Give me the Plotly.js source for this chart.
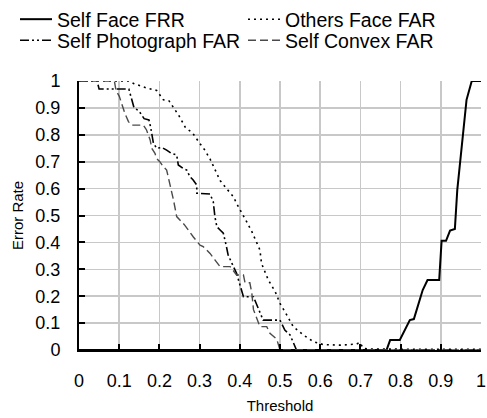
<!DOCTYPE html>
<html>
<head>
<meta charset="utf-8">
<script src="https://cdn.plot.ly/plotly-3.0.1.min.js"></script>
<style>html,body{margin:0;padding:0;background:#fff;}#chart{width:487px;height:418px;}</style>
</head>
<body>
<div id="chart"></div>
<script>
// Self Face FRR (solid)
const frrX = [0, 0.765, 0.774, 0.798, 0.823, 0.833, 0.855, 0.867, 0.896, 0.902, 0.913, 0.923, 0.935, 0.941, 0.964, 0.977, 1];
const frrY = [0, 0, 0.037, 0.037, 0.111, 0.115, 0.223, 0.26, 0.26, 0.406, 0.406, 0.444, 0.45, 0.595, 0.93, 1, 1];

// Others Face FAR (dotted)
const othX = [0, 0.123, 0.137, 0.166, 0.193, 0.2, 0.21, 0.224, 0.236, 0.249, 0.265, 0.282, 0.299, 0.313, 0.326, 0.338, 0.351, 0.367, 0.384, 0.392, 0.405, 0.417, 0.43, 0.442, 0.45, 0.454, 0.471, 0.488, 0.5, 0.517, 0.533, 0.558, 0.583, 0.608, 0.624, 0.65, 0.69, 0.699, 0.707, 0.72, 0.8, 1];
const othY = [1, 1, 0.99, 0.975, 0.965, 0.95, 0.93, 0.926, 0.9, 0.87, 0.826, 0.808, 0.771, 0.743, 0.71, 0.669, 0.63, 0.6, 0.57, 0.545, 0.512, 0.477, 0.44, 0.403, 0.372, 0.322, 0.26, 0.217, 0.173, 0.13, 0.087, 0.056, 0.031, 0.02, 0.02, 0.018, 0.022, 0.028, 0.006, 0.004, 0.003, 0.003];

// Self Photograph FAR (dash-dot)
const phoX = [0, 0.045, 0.05, 0.124, 0.137, 0.149, 0.162, 0.174, 0.178, 0.185, 0.193, 0.206, 0.218, 0.23, 0.243, 0.247, 0.259, 0.268, 0.276, 0.284, 0.293, 0.293, 0.326, 0.334, 0.338, 0.343, 0.351, 0.359, 0.366, 0.371, 0.392, 0.409, 0.434, 0.458, 0.5, 0.512, 0.525, 0.541, 1];
const phoY = [1, 1, 0.97, 0.97, 0.9, 0.889, 0.86, 0.855, 0.83, 0.77, 0.75, 0.753, 0.743, 0.731, 0.725, 0.688, 0.675, 0.669, 0.644, 0.632, 0.613, 0.583, 0.58, 0.551, 0.496, 0.458, 0.446, 0.434, 0.39, 0.353, 0.285, 0.198, 0.198, 0.111, 0.111, 0.074, 0.056, 0, 0];

// Self Convex FAR (dashed)
const cvxX = [0, 0.088, 0.092, 0.1, 0.106, 0.114, 0.123, 0.131, 0.16, 0.168, 0.177, 0.181, 0.189, 0.193, 0.201, 0.21, 0.218, 0.226, 0.235, 0.243, 0.255, 0.262, 0.284, 0.301, 0.309, 0.326, 0.338, 0.351, 0.376, 0.392, 0.409, 0.413, 0.425, 0.43, 0.434, 0.45, 0.467, 0.475, 0.492, 0.5, 1];
const cvxY = [1, 1, 0.965, 0.944, 0.917, 0.88, 0.849, 0.836, 0.836, 0.818, 0.781, 0.75, 0.731, 0.712, 0.7, 0.681, 0.669, 0.62, 0.558, 0.496, 0.477, 0.466, 0.421, 0.39, 0.384, 0.359, 0.335, 0.31, 0.31, 0.279, 0.279, 0.25, 0.25, 0.21, 0.15, 0.087, 0.087, 0.062, 0.04, 0, 0];

const tickVals = [0, 0.1, 0.2, 0.3, 0.4, 0.5, 0.6, 0.7, 0.8, 0.9, 1];
const tickText = ['0', '0.1', '0.2', '0.3', '0.4', '0.5', '0.6', '0.7', '0.8', '0.9', '1'];

const FONT = 'Liberation Sans, Arial, sans-serif';

const traces = [
  {x: frrX, y: frrY, name: 'Self Face FRR', mode: 'lines', legend: 'legend', line: {color: '#000', width: 2}},
  {x: othX, y: othY, name: 'Others Face FAR', mode: 'lines', legend: 'legend2', line: {color: '#000', width: 1.6, dash: '2px,4px'}},
  {x: phoX, y: phoY, name: 'Self Photograph FAR', mode: 'lines', legend: 'legend3', line: {color: '#000', width: 1.6, dash: '9px,3px,2px,3px,2px,3px'}},
  {x: cvxX, y: cvxY, name: 'Self Convex FAR', mode: 'lines', legend: 'legend4', line: {color: '#4a4a4a', width: 1.4, dash: '8px,4px'}}
];

const axisCommon = {
  range: [0, 1],
  tickvals: tickVals,
  ticktext: tickText,
  showgrid: true,
  gridcolor: '#c8c8c8',
  gridwidth: 1.6,
  zeroline: false,
  showline: true,
  linecolor: '#000',
  linewidth: 2,
  ticks: 'inside',
  ticklen: 6,
  tickwidth: 2,
  tickcolor: '#000',
  tickfont: {family: FONT, size: 18, color: '#000'},
  fixedrange: true,
  automargin: false
};

function leg(xpx, ypx) {
  return {
    orientation: 'h',
    xref: 'container', yref: 'container',
    xanchor: 'left', yanchor: 'top',
    x: xpx / 487, y: 1 - ypx / 418,
    font: {family: FONT, size: 19.5, color: '#000'},
    bgcolor: 'rgba(0,0,0,0)',
    itemwidth: 32
  };
}

const layout = {
  width: 487,
  height: 418,
  margin: {l: 79, r: 6, t: 81, b: 68, autoexpand: false},
  paper_bgcolor: '#fff',
  plot_bgcolor: '#fff',
  font: {family: FONT, size: 17, color: '#000'},
  xaxis: Object.assign({}, axisCommon, {
    ticklabelstandoff: 13,
    title: {text: 'Threshold', font: {family: FONT, size: 15, color: '#000'}, standoff: 11}
  }),
  yaxis: Object.assign({}, axisCommon, {
    ticklabelstandoff: 13,
    title: {text: 'Error Rate', font: {family: FONT, size: 15, color: '#000'}, standoff: 8}
  }),
  showlegend: true,
  legend: leg(15, 0),
  legend2: leg(243, 0),
  legend3: leg(15, 21),
  legend4: leg(243, 21)
};

Plotly.newPlot('chart', traces, layout, {displayModeBar: false, staticPlot: true});
</script>
</body>
</html>
